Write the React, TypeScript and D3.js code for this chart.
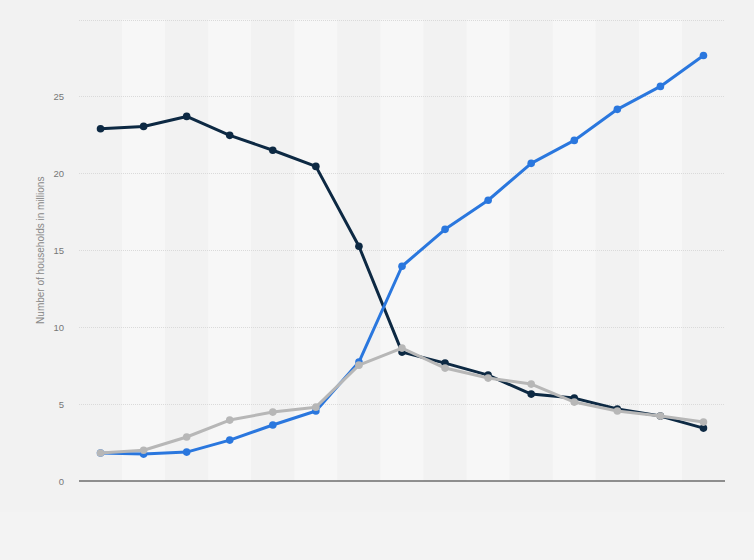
import { useEffect, useRef } from 'react'
import * as d3 from 'd3'

const W = 754
const H = 560
const M = { top: 19.5, right: 29, bottom: 79, left: 79 }

const years = ['p0', 'p1', 'p2', 'p3', 'p4', 'p5', 'p6', 'p7', 'p8', 'p9', 'p10', 'p11', 'p12', 'p13', 'p14']
const navySeries = [22.9, 23.05, 23.7, 22.47, 21.5, 20.45, 15.26, 8.38, 7.66, 6.88, 5.65, 5.39, 4.68, 4.22, 3.44]
const blueSeries = [1.82, 1.75, 1.88, 2.66, 3.64, 4.55, 7.73, 13.96, 16.36, 18.25, 20.65, 22.14, 24.16, 25.65, 27.66]
const graySeries = [1.82, 2.0, 2.86, 3.96, 4.48, 4.8, 7.53, 8.64, 7.34, 6.69, 6.3, 5.13, 4.55, 4.22, 3.83]
const yTicks = [0, 5, 10, 15, 20, 25]

export default function App() {
  const svgRef = useRef<SVGSVGElement | null>(null)

  useEffect(() => {
    const svg = d3.select(svgRef.current)
    svg.selectAll('*').remove()

    const x = d3.scaleBand<string>().domain(years).range([M.left, W - M.right])
    const y = d3.scaleLinear().domain([0, 30]).range([H - M.bottom, M.top])
    const cx = (d: string) => (x(d) as number) + x.bandwidth() / 2

    svg.append('rect').attr('width', W).attr('height', H).attr('fill', '#f2f2f2')
    svg.append('rect').attr('y', 512).attr('width', W).attr('height', H - 512).attr('fill', '#f3f3f3')

    // alternating column bands
    svg.selectAll('.band')
      .data(years)
      .enter()
      .append('rect')
      .attr('x', (d) => x(d) as number)
      .attr('y', M.top)
      .attr('width', x.bandwidth())
      .attr('height', y(0) - M.top)
      .attr('fill', (d, i) => (i % 2 === 1 ? '#f7f7f7' : '#f2f2f2'))

    // gridlines
    svg.selectAll('.grid')
      .data([5, 10, 15, 20, 25, 30])
      .enter()
      .append('line')
      .attr('x1', M.left)
      .attr('x2', W - M.right)
      .attr('y1', (d) => Math.round(y(d)) + 0.5)
      .attr('y2', (d) => Math.round(y(d)) + 0.5)
      .attr('stroke', '#dadada')
      .attr('stroke-dasharray', '1,1')

    svg.append('line')
      .attr('x1', M.left)
      .attr('x2', W - M.right)
      .attr('y1', y(0))
      .attr('y2', y(0))
      .attr('stroke', '#2b2b2b')
      .attr('stroke-width', 1.2)

    svg.selectAll('.ytick')
      .data(yTicks)
      .enter()
      .append('text')
      .attr('x', 64)
      .attr('y', (d) => y(d) + 3.5)
      .attr('text-anchor', 'end')
      .attr('font-family', 'Arial, Liberation Sans, sans-serif')
      .attr('font-size', 9.5)
      .attr('fill', '#777')
      .text((d) => d)

    svg.append('text')
      .attr('transform', `translate(44, ${(M.top + y(0)) / 2}) rotate(-90)`)
      .attr('text-anchor', 'middle')
      .attr('font-family', 'Arial, Liberation Sans, sans-serif')
      .attr('font-size', 10)
      .attr('fill', '#888')
      .text('Number of households in millions')

    const series = [
      { values: navySeries, color: '#0d2943' },
      { values: blueSeries, color: '#2a77de' },
      { values: graySeries, color: '#b7b7b7' },
    ]

    series.forEach((s) => {
      const line = d3.line<number>()
        .x((d, i) => cx(years[i]))
        .y((d) => y(d))
      const g = svg.append('g')
      g.append('path')
        .attr('d', line(s.values) as string)
        .attr('fill', 'none')
        .attr('stroke', s.color)
        .attr('stroke-width', 3)
        .attr('stroke-linejoin', 'round')
      g.selectAll('circle')
        .data(s.values)
        .enter()
        .append('circle')
        .attr('cx', (d, i) => cx(years[i]))
        .attr('cy', (d) => y(d))
        .attr('r', 3.8)
        .attr('fill', s.color)
    })
  }, [])

  return (
    <svg ref={svgRef} width={W} height={H} style={{ position: 'absolute', left: 0, top: 0 }}></svg>
  )
}
